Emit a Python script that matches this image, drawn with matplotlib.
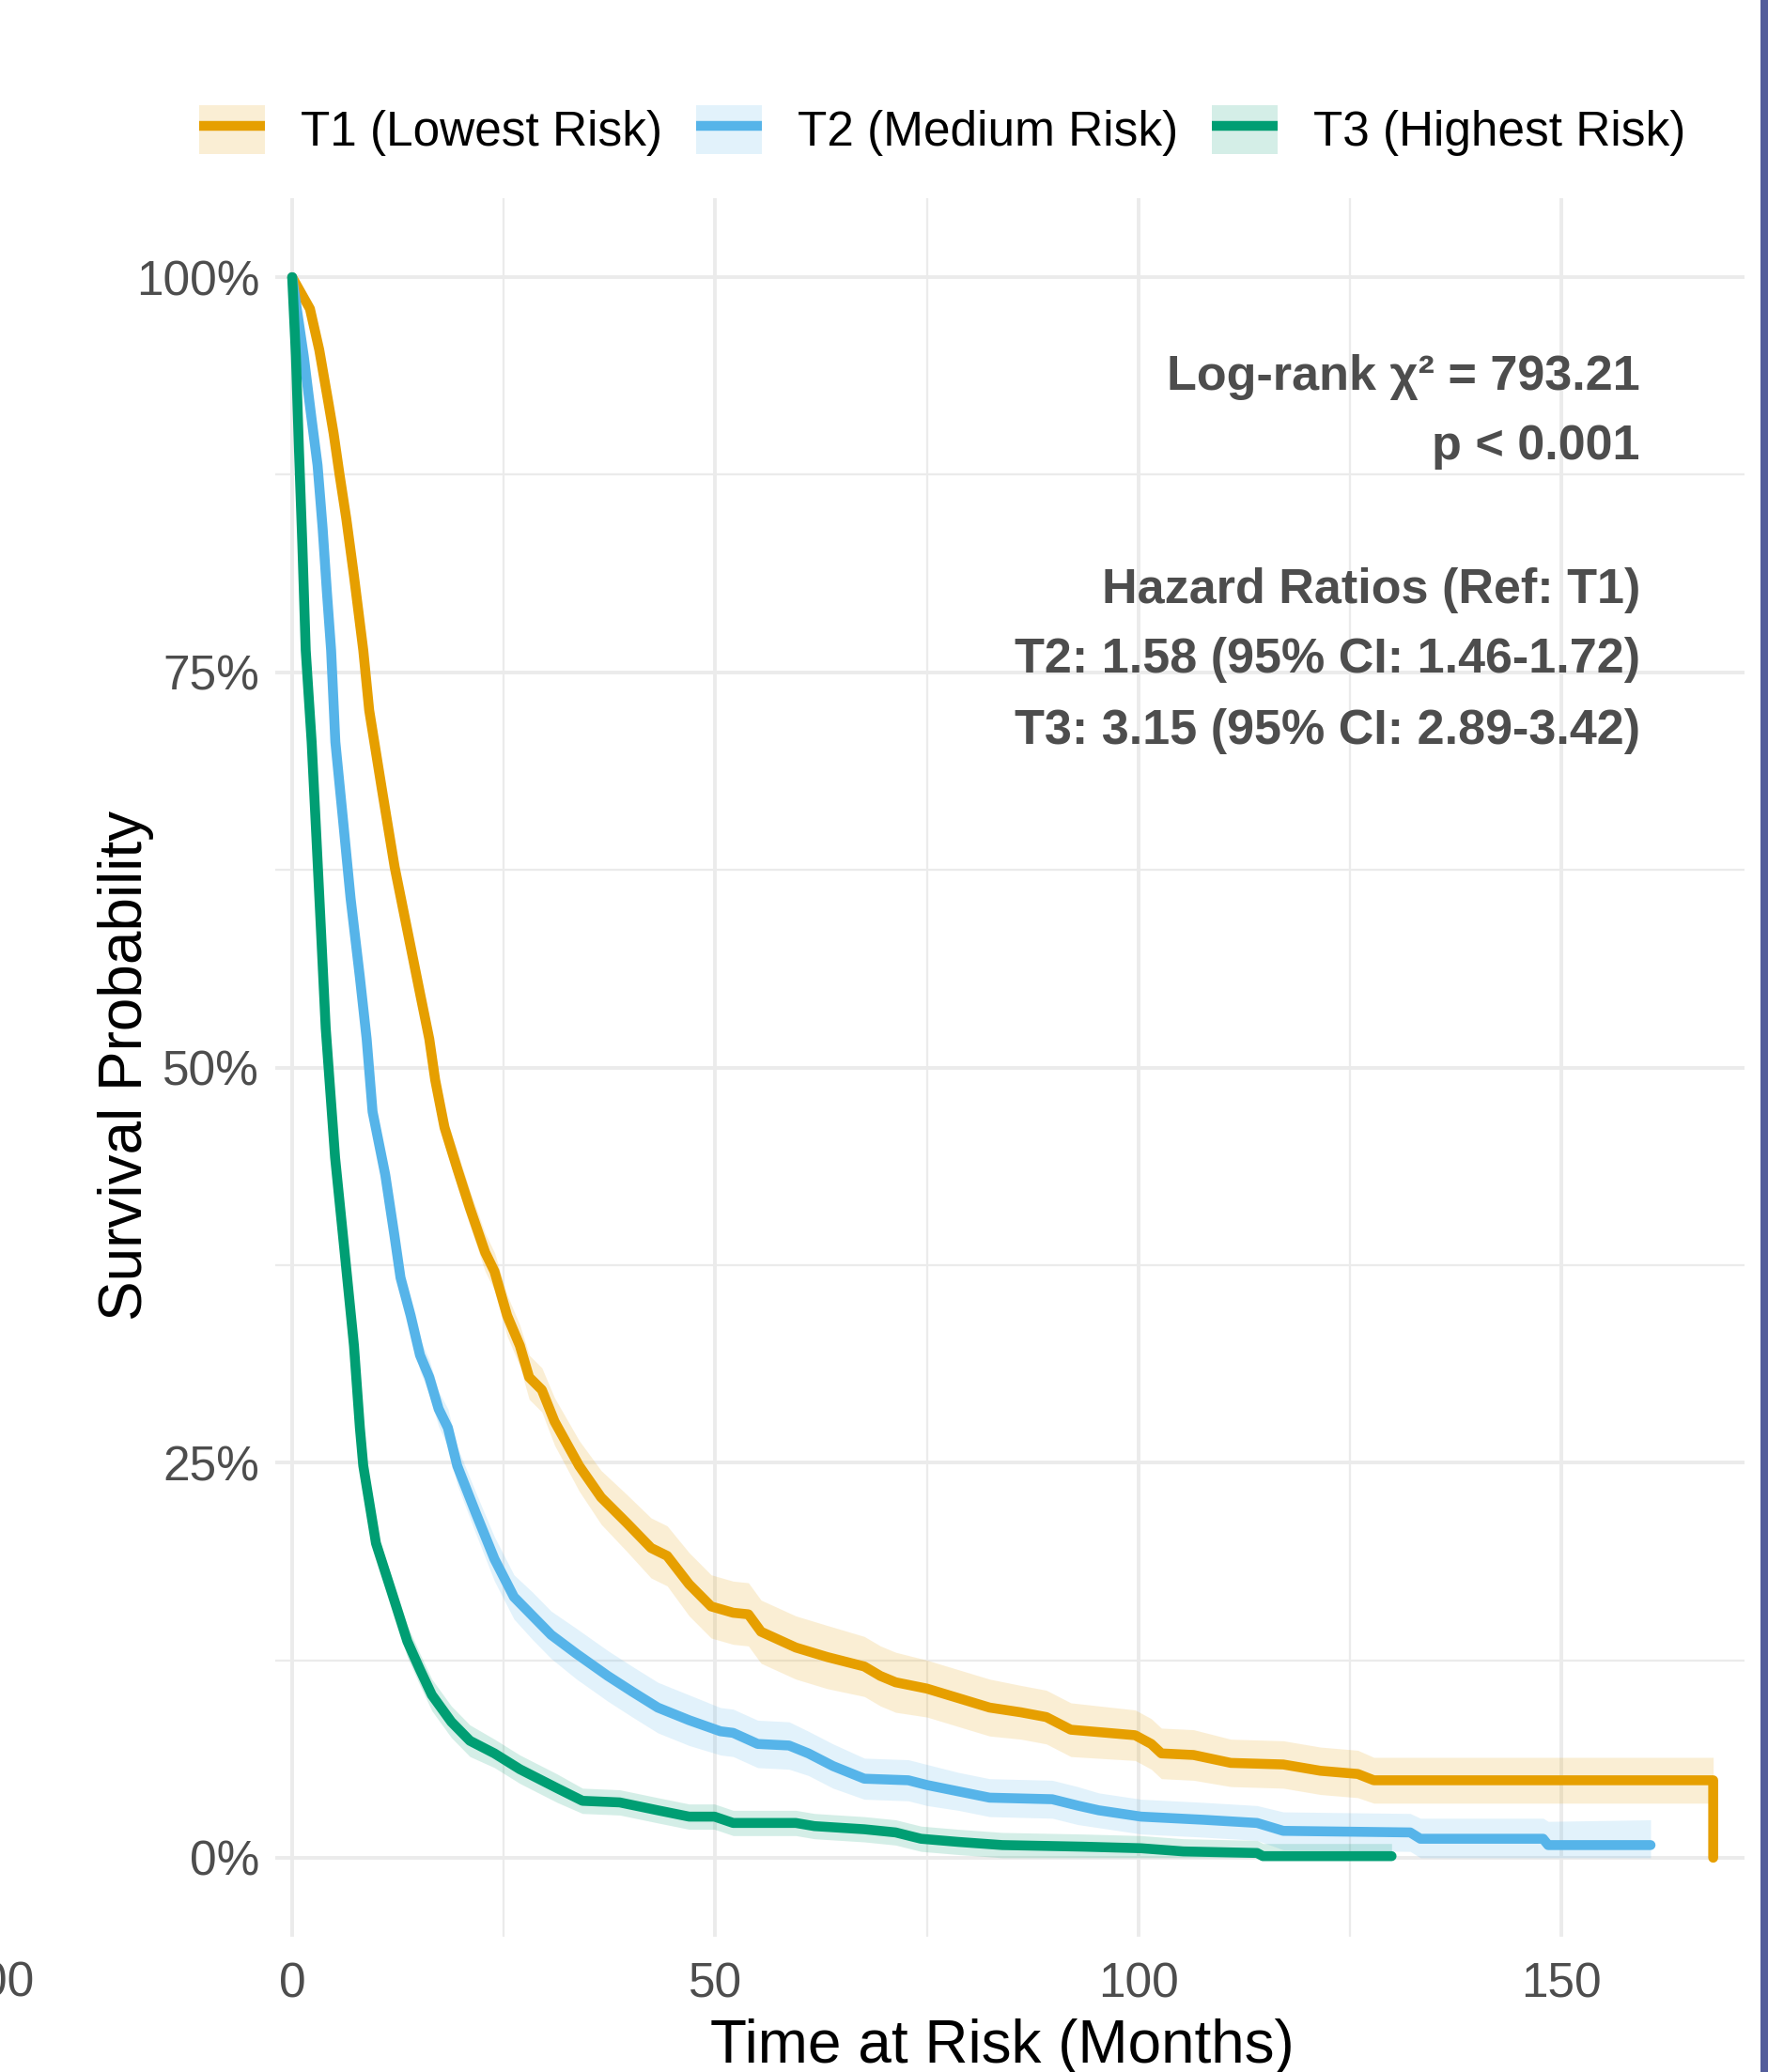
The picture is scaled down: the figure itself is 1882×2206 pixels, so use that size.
import numpy as np
import matplotlib
matplotlib.use("Agg")
import matplotlib.pyplot as plt
from matplotlib.patches import Patch, Rectangle
from matplotlib.lines import Line2D
from matplotlib.legend_handler import HandlerTuple

plt.rcParams['font.family'] = ['Liberation Sans', 'DejaVu Sans']

# survival curves (months, %)
t1_time = [0, 2.1, 3.2, 4.3, 4.9, 5.6, 6.4, 7.3, 8.4, 9.1, 10.6, 12.1, 13.6, 15.1, 16.2, 16.9,
           18.0, 19.5, 21.0, 22.8, 23.9, 25.4, 26.9, 28.0, 29.5, 31.0, 33.9, 36.5, 39.5, 42.4,
           44.3, 46.9, 49.5, 52.1, 53.9, 55.4, 59.5, 63.2, 67.6, 69.5, 71.3, 75.0, 78.7, 82.4,
           86.1, 89.1, 92.0, 99.6, 101.5, 102.7, 106.5, 110.9, 117.1, 121.5, 125.9, 127.8,
           167.9, 167.9]
t1_surv = [100, 98.0, 95.4, 92.0, 90.1, 87.5, 84.7, 81.1, 76.4, 72.6, 67.6, 62.7, 58.7, 54.7,
           51.8, 49.2, 46.2, 43.6, 41.1, 38.3, 37.1, 34.3, 32.4, 30.4, 29.6, 27.6, 24.8, 22.8,
           21.2, 19.6, 19.1, 17.3, 15.9, 15.5, 15.4, 14.3, 13.3, 12.7, 12.1, 11.5, 11.1, 10.7,
           10.1, 9.5, 9.2, 8.9, 8.1, 7.75, 7.2, 6.6, 6.5, 6.0, 5.9, 5.5, 5.3, 4.9, 4.9, 0]
t1_half = [0, 0.2, 0.3, 0.3, 0.4, 0.4, 0.5, 0.5, 0.6,
           0.6, 0.7, 0.8, 0.8, 0.9, 0.9, 1.0, 1.0, 1.1, 1.1,
           1.2, 1.2, 1.3, 1.3, 1.4, 1.4, 1.5, 1.6, 1.7, 1.8,
           1.9, 1.9, 2.0, 2.0, 2.0, 2.0, 2.0, 2.0, 2.0, 1.9,
           1.9, 1.9, 1.8, 1.8, 1.8, 1.7, 1.7, 1.7, 1.6, 1.6,
           1.6, 1.6, 1.5, 1.5, 1.5, 1.5, 1.45, 1.45]

t2_time = [0, 1.37, 2.3, 3.0, 3.6, 4.1, 4.6, 5.1, 6.0, 6.9, 8.0, 8.8, 9.5, 11.0, 12.1, 12.8,
           14.0, 15.1, 16.2, 17.3, 18.4, 19.5, 21.7, 23.9, 26.2, 28.4, 30.6, 33.6, 37.3, 40.2,
           43.2, 46.9, 50.6, 52.1, 55.0, 58.7, 61.0, 63.9, 67.6, 72.8, 75.0, 78.7, 82.4, 89.8,
           92.8, 95.3, 100.3, 107.7, 114.0, 117.1, 132.1, 133.3, 147.8, 148.4, 160.5]
t2_surv = [100, 95, 91, 88.1, 84.1, 80.1, 76.4, 70.6, 65.7, 60.7, 55.7, 51.8, 47.2, 43.2, 39.3,
           36.7, 34.3, 31.8, 30.4, 28.4, 27.2, 24.8, 21.8, 18.9, 16.5, 15.3, 14.1, 12.9, 11.5,
           10.5, 9.5, 8.7, 8.0, 7.9, 7.2, 7.1, 6.6, 5.8, 5.0, 4.9, 4.6, 4.2, 3.8, 3.7, 3.3, 3.0,
           2.6, 2.4, 2.2, 1.7, 1.6, 1.2, 1.2, 0.8, 0.8]
t2_half = [0, 0.2, 0.3, 0.3, 0.4, 0.4, 0.5, 0.5, 0.6, 0.6,
           0.7, 0.7, 0.8, 0.8, 0.9, 0.9, 1.0, 1.0, 1.1, 1.1,
           1.2, 1.2, 1.3, 1.4, 1.4, 1.5, 1.5, 1.6, 1.6, 1.6,
           1.6, 1.6, 1.5, 1.5, 1.5, 1.5, 1.4, 1.4, 1.3, 1.3,
           1.3, 1.2, 1.2, 1.2, 1.2, 1.1, 1.1, 1.1, 1.1, 1.2,
           1.2, 1.3, 1.3, 1.5, 1.6]

t3_time = [0, 0.44, 0.8, 1.2, 1.6, 2.3, 2.85, 3.4, 3.96, 5.07, 6.2, 7.3, 8.0, 8.4, 9.9, 11.7,
           13.6, 15.1, 16.5, 18.8, 21.0, 23.9, 26.9, 31.3, 34.3, 38.7, 43.2, 46.9, 49.9, 52.1,
           59.5, 61.7, 67.6, 71.3, 74.3, 78.7, 83.9, 93.4, 100.3, 105.3, 114.0, 114.7, 129.9]
t3_surv = [100, 95, 89.1, 83.1, 76.4, 70.6, 64.7, 58.7, 52.5, 44.3, 38.3, 32.4, 27.2, 24.8,
           19.9, 16.9, 13.7, 11.9, 10.3, 8.6, 7.4, 6.6, 5.6, 4.4, 3.6, 3.5, 3.0, 2.6, 2.6, 2.2,
           2.2, 2.0, 1.8, 1.6, 1.2, 1.0, 0.8, 0.7, 0.6, 0.4, 0.3, 0.1, 0.1]
t3_half = [0, 0.2, 0.3, 0.3, 0.4, 0.4, 0.5, 0.5, 0.6, 0.6,
           0.7, 0.7, 0.8, 0.8, 0.9, 0.9, 1.0, 1.0, 1.0, 1.0,
           1.0, 0.9, 0.9, 0.9, 0.8, 0.8, 0.8, 0.8, 0.8, 0.8,
           0.8, 0.8, 0.8, 0.8, 0.8, 0.8, 0.8, 0.8, 0.8, 0.8,
           0.8, 0.8, 0.8]

labels = ["T1 (Lowest Risk)", "T2 (Medium Risk)", "T3 (Highest Risk)"]
colors = ["#E69F00", "#56B4E9", "#009E73"]

x_ticks = [0, 50, 100, 150]
y_ticks = [0, 25, 50, 75, 100]

stats_lines = ["Log-rank χ² = 793.21", "p < 0.001",
               "Hazard Ratios (Ref: T1)",
               "T2: 1.58 (95% CI: 1.46-1.72)",
               "T3: 3.15 (95% CI: 2.89-3.42)"]

W, H = 1883, 2206
fig = plt.figure(figsize=(W / 100, H / 100), dpi=100)
fig.patch.set_facecolor("white")
ax = fig.add_axes([293 / W, 1 - 2062 / H, (1857 - 293) / W, (2062 - 211) / H])

series = [(t1_time, t1_surv, t1_half), (t2_time, t2_surv, t2_half), (t3_time, t3_surv, t3_half)]
for (t, s, h), c in zip(series, colors):
    n = len(h)
    tt = np.array(t[:n])
    ss = np.array(s[:n])
    hh = np.array(h)
    ax.fill_between(tt, np.clip(ss - hh, 0, None), ss + hh, color=c, alpha=0.17, lw=0, zorder=2)
for (t, s, h), c in zip(series, colors):
    ax.plot(t, s, color=c, lw=7.6, solid_capstyle='round', solid_joinstyle='round', zorder=3)

ax.set_xlim(-2.0, 171.6)
ax.set_ylim(-5, 105)
ax.set_xticks(x_ticks)
ax.set_xticks([25, 75, 125], minor=True)
ax.set_yticks(y_ticks)
ax.set_yticks([12.5, 37.5, 62.5, 87.5], minor=True)
ax.set_yticklabels([f"{v}%" for v in y_ticks])
ax.grid(which='major', color='#EBEBEB', lw=2.8)
ax.grid(which='minor', color='#EBEBEB', lw=1.6)
ax.set_axisbelow(True)
for sp in ax.spines.values():
    sp.set_visible(False)
ax.tick_params(which='both', length=0, labelsize=37, labelcolor='#4D4D4D')
ax.tick_params(axis='x', pad=19)
ax.tick_params(axis='y', pad=12)

fig.text(1067 / W, 1 - 2196 / H, "Time at Risk (Months)", ha='center', va='baseline', fontsize=46)
fig.text(151 / W, 1 - 1134 / H, "Survival Probability", rotation=90, rotation_mode='anchor',
         ha='center', va='baseline', fontsize=46)

baselines = [415, 489, 642, 716, 792]
for txt, b in zip(stats_lines, baselines):
    fig.text(1746 / W, 1 - b / H, txt, ha='right', va='baseline', fontsize=37.5,
             fontweight='bold', color='#4D4D4D')

handles = [(Patch(facecolor=c, alpha=0.17, lw=0),
            Line2D([], [], color=c, lw=7.5, solid_capstyle='butt')) for c in colors]
fig.legend(handles, labels, handler_map={tuple: HandlerTuple(ndivide=1, pad=0)},
           loc='center', bbox_to_anchor=(1003 / W, 1 - 139 / H), ncol=3, frameon=False,
           fontsize=37, handlelength=1.36, handleheight=1.2, handletextpad=0.74,
           columnspacing=0.7, borderpad=0, borderaxespad=0)

# neighbouring panel fragment and screenshot border
fig.text(-21 / W, 1 - 2112 / H, "00", ha='left', va='center', fontsize=37, color='#4D4D4D')
fig.patches.append(Rectangle((1874 / W, 0), 1, 1, transform=fig.transFigure,
                             facecolor='#535D9B', edgecolor='none'))

fig.savefig("out.png", dpi=100)
